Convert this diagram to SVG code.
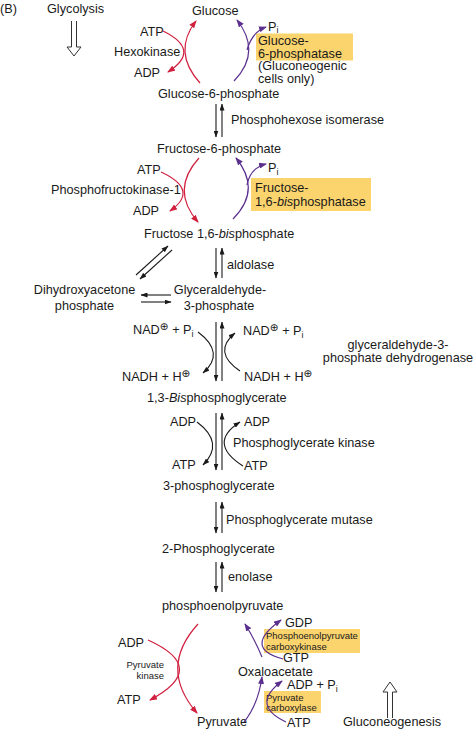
<svg xmlns="http://www.w3.org/2000/svg" width="474" height="733" viewBox="0 0 474 733">
<style>
text{font-family:"Liberation Sans",Arial,sans-serif;font-size:12.7px;fill:#1a1a1a}
.sm{font-size:9.5px}
.sub{font-size:9px}
.sup{font-family:"DejaVu Sans",sans-serif;font-size:10.5px}
.box{fill:#fcd46e}
.red{fill:none;stroke:#d11f3e;stroke-width:1.2;marker-end:url(#mr)}
.pur{fill:none;stroke:#5a2f8e;stroke-width:1.2;marker-end:url(#mp)}
.blk{fill:none;stroke:#1a1a1a;stroke-width:1.1;marker-end:url(#mb)}
.open{fill:#fff;stroke:#333;stroke-width:1}
</style>
<defs>
<marker id="mr" markerUnits="userSpaceOnUse" markerWidth="8" markerHeight="6" refX="7" refY="3" orient="auto"><path d="M0,0 L8,3 L0,6 z" fill="#d11f3e"/></marker>
<marker id="mp" markerUnits="userSpaceOnUse" markerWidth="8" markerHeight="6" refX="7" refY="3" orient="auto"><path d="M0,0 L8,3 L0,6 z" fill="#5a2f8e"/></marker>
<marker id="mb" markerUnits="userSpaceOnUse" markerWidth="7" markerHeight="5" refX="6.5" refY="2.5" orient="auto"><path d="M0,0 L7,2.5 L0,5 z" fill="#1a1a1a"/></marker>
</defs>

<g id="label-B"><text x="0" y="13">(B)</text></g>
<g id="glycolysis"><text x="47" y="13">Glycolysis</text>
<path class="open" d="M71.5,21 L71.5,47 L67,47 L74,56 L81,47 L76.5,47 L76.5,21"/></g>

<g id="glucose"><text x="192" y="15">Glucose</text></g>
<g id="hexokinase"><text x="140" y="36">ATP</text><text x="114" y="56">Hexokinase</text><text x="134" y="77">ADP</text></g>
<g id="g6pase"><text x="268" y="30.5">P<tspan class="sub" dy="2.5">i</tspan></text>
<rect class="box" x="256" y="33.5" width="97" height="27"/>
<text x="258" y="45">Glucose-</text><text x="258" y="57.5">6-phosphatase</text><text x="258" y="70">(Gluconeogenic</text><text x="258" y="83">cells only)</text></g>
<g id="g6p"><text x="158" y="98">Glucose-6-phosphate</text></g>
<g id="phi"><text x="231" y="124">Phosphohexose isomerase</text></g>
<g id="f6p"><text x="157" y="153">Fructose-6-phosphate</text></g>
<g id="pfk1"><text x="137" y="174">ATP</text><text x="51" y="194">Phosphofructokinase-1</text><text x="133" y="215">ADP</text></g>
<g id="fbpase"><text x="268" y="172">P<tspan class="sub" dy="3">i</tspan></text>
<rect class="box" x="251" y="178" width="120" height="33"/>
<text x="255" y="192">Fructose-</text><text x="255" y="206">1,6-<tspan font-style="italic">bis</tspan>phosphatase</text></g>
<g id="f16bp"><text x="144" y="238">Fructose 1,6-<tspan font-style="italic">bis</tspan>phosphate</text></g>
<g id="aldolase"><text x="227" y="269">aldolase</text></g>
<g id="dhap"><text x="84.5" y="294" text-anchor="middle">Dihydroxyacetone</text><text x="84.5" y="310" text-anchor="middle">phosphate</text></g>
<g id="g3p"><text x="220" y="294" text-anchor="middle">Glyceraldehyde-</text><text x="219" y="310" text-anchor="middle">3-phosphate</text></g>
<g id="gapdh">
<text x="133" y="334">NAD<tspan class="sup" dy="-4">⊕</tspan><tspan dy="4"> + P</tspan><tspan class="sub" dy="3">i</tspan></text>
<text x="243" y="335">NAD<tspan class="sup" dy="-4">⊕</tspan><tspan dy="4"> + P</tspan><tspan class="sub" dy="3">i</tspan></text>
<text x="398" y="349" text-anchor="middle">glyceraldehyde-3-</text><text x="398" y="362" text-anchor="middle">phosphate dehydrogenase</text>
<text x="122" y="381">NADH + H<tspan class="sup" dy="-4">⊕</tspan></text>
<text x="244" y="381">NADH + H<tspan class="sup" dy="-4">⊕</tspan></text></g>
<g id="bpg13"><text x="147" y="402">1,3-<tspan font-style="italic">Bis</tspan>phosphoglycerate</text></g>
<g id="pgk"><text x="170" y="426">ADP</text><text x="244" y="426">ADP</text><text x="233" y="447">Phosphoglycerate kinase</text><text x="172" y="469">ATP</text><text x="244" y="470">ATP</text></g>
<g id="pg3"><text x="163" y="490">3-phosphoglycerate</text></g>
<g id="pgm"><text x="226" y="524">Phosphoglycerate mutase</text></g>
<g id="pg2"><text x="162" y="553">2-Phosphoglycerate</text></g>
<g id="enolase"><text x="228" y="581">enolase</text></g>
<g id="pep"><text x="162" y="610">phosphoenolpyruvate</text></g>
<g id="pk"><text x="118" y="647">ADP</text><text class="sm" x="164" y="668" text-anchor="end">Pyruvate</text><text class="sm" x="164" y="679" text-anchor="end">kinase</text><text x="117" y="704">ATP</text></g>
<g id="pyruvate"><text x="197" y="726">Pyruvate</text></g>
<g id="pepck"><text x="285" y="627">GDP</text>
<rect class="box" x="264" y="629" width="96" height="24"/>
<text class="sm" x="266" y="638.5">Phosphoenolpyruvate</text><text class="sm" x="266" y="649.5">carboxykinase</text>
<text x="283" y="662">GTP</text></g>
<g id="oaa"><text x="238" y="676">Oxaloacetate</text></g>
<g id="pc"><text x="287" y="688.5">ADP + P<tspan class="sub" dy="3">i</tspan></text>
<rect class="box" x="264" y="691" width="57" height="22"/>
<text class="sm" x="266" y="701">Pyruvate</text><text class="sm" x="266" y="711">carboxylase</text>
<text x="287" y="727">ATP</text></g>
<g id="gluconeogenesis"><text x="343" y="726">Gluconeogenesis</text>
<path class="open" d="M387.5,718 L387.5,692 L383,692 L390,682 L397,692 L392.5,692 L392.5,718"/></g>

<g id="connectors">
<path class="red" d="M200,83 Q172,52 196,21"/>
<path class="red" d="M163,31 Q202,50 168,72"/>
<path class="pur" d="M234,81 Q262,52 237,20"/>
<path class="pur" d="M247,50 Q252,32 266,27"/>
<path class="blk" d="M216,104 L216,137"/>
<path class="blk" d="M222,137 L222,104"/>
<path class="red" d="M199,158 Q170,190 198,222"/>
<path class="red" d="M161,172 Q200,190 170,211"/>
<path class="pur" d="M233,219 Q262,190 236,158"/>
<path class="pur" d="M247,185 Q250,168 266,164"/>
<path class="blk" d="M216,248 L216,278"/>
<path class="blk" d="M222,278 L222,248"/>
<path class="blk" d="M136,275 L168,246"/>
<path class="blk" d="M172,250 L140,279"/>
<path class="blk" d="M171,295 L141,295"/>
<path class="blk" d="M141,302 L171,302"/>
<path class="blk" d="M216,322 L216,381"/>
<path class="blk" d="M222,381 L222,322"/>
<path class="blk" d="M198,332 Q226,353 203,373"/>
<path class="blk" d="M240,371 Q212,352 235,333"/>
<path class="blk" d="M216,413 L216,470"/>
<path class="blk" d="M222,470 L222,413"/>
<path class="blk" d="M197,422 Q225,443 203,465"/>
<path class="blk" d="M243,466 Q207,443 240,422"/>
<path class="blk" d="M216,502 L216,533"/>
<path class="blk" d="M222,533 L222,502"/>
<path class="blk" d="M216,562 L216,592"/>
<path class="blk" d="M222,592 L222,562"/>
<path class="red" d="M198,624 Q158,668 197,713"/>
<path class="red" d="M148,640 Q210,668 150,700"/>
<path class="pur" d="M262,657 Q254,638 245,624"/>
<path class="pur" d="M283,659 Q242,648 281,620"/>
<path class="pur" d="M244,722 Q258,705 262,677"/>
<path class="pur" d="M286,722 Q250,705 282,681"/>
</g>
</svg>
